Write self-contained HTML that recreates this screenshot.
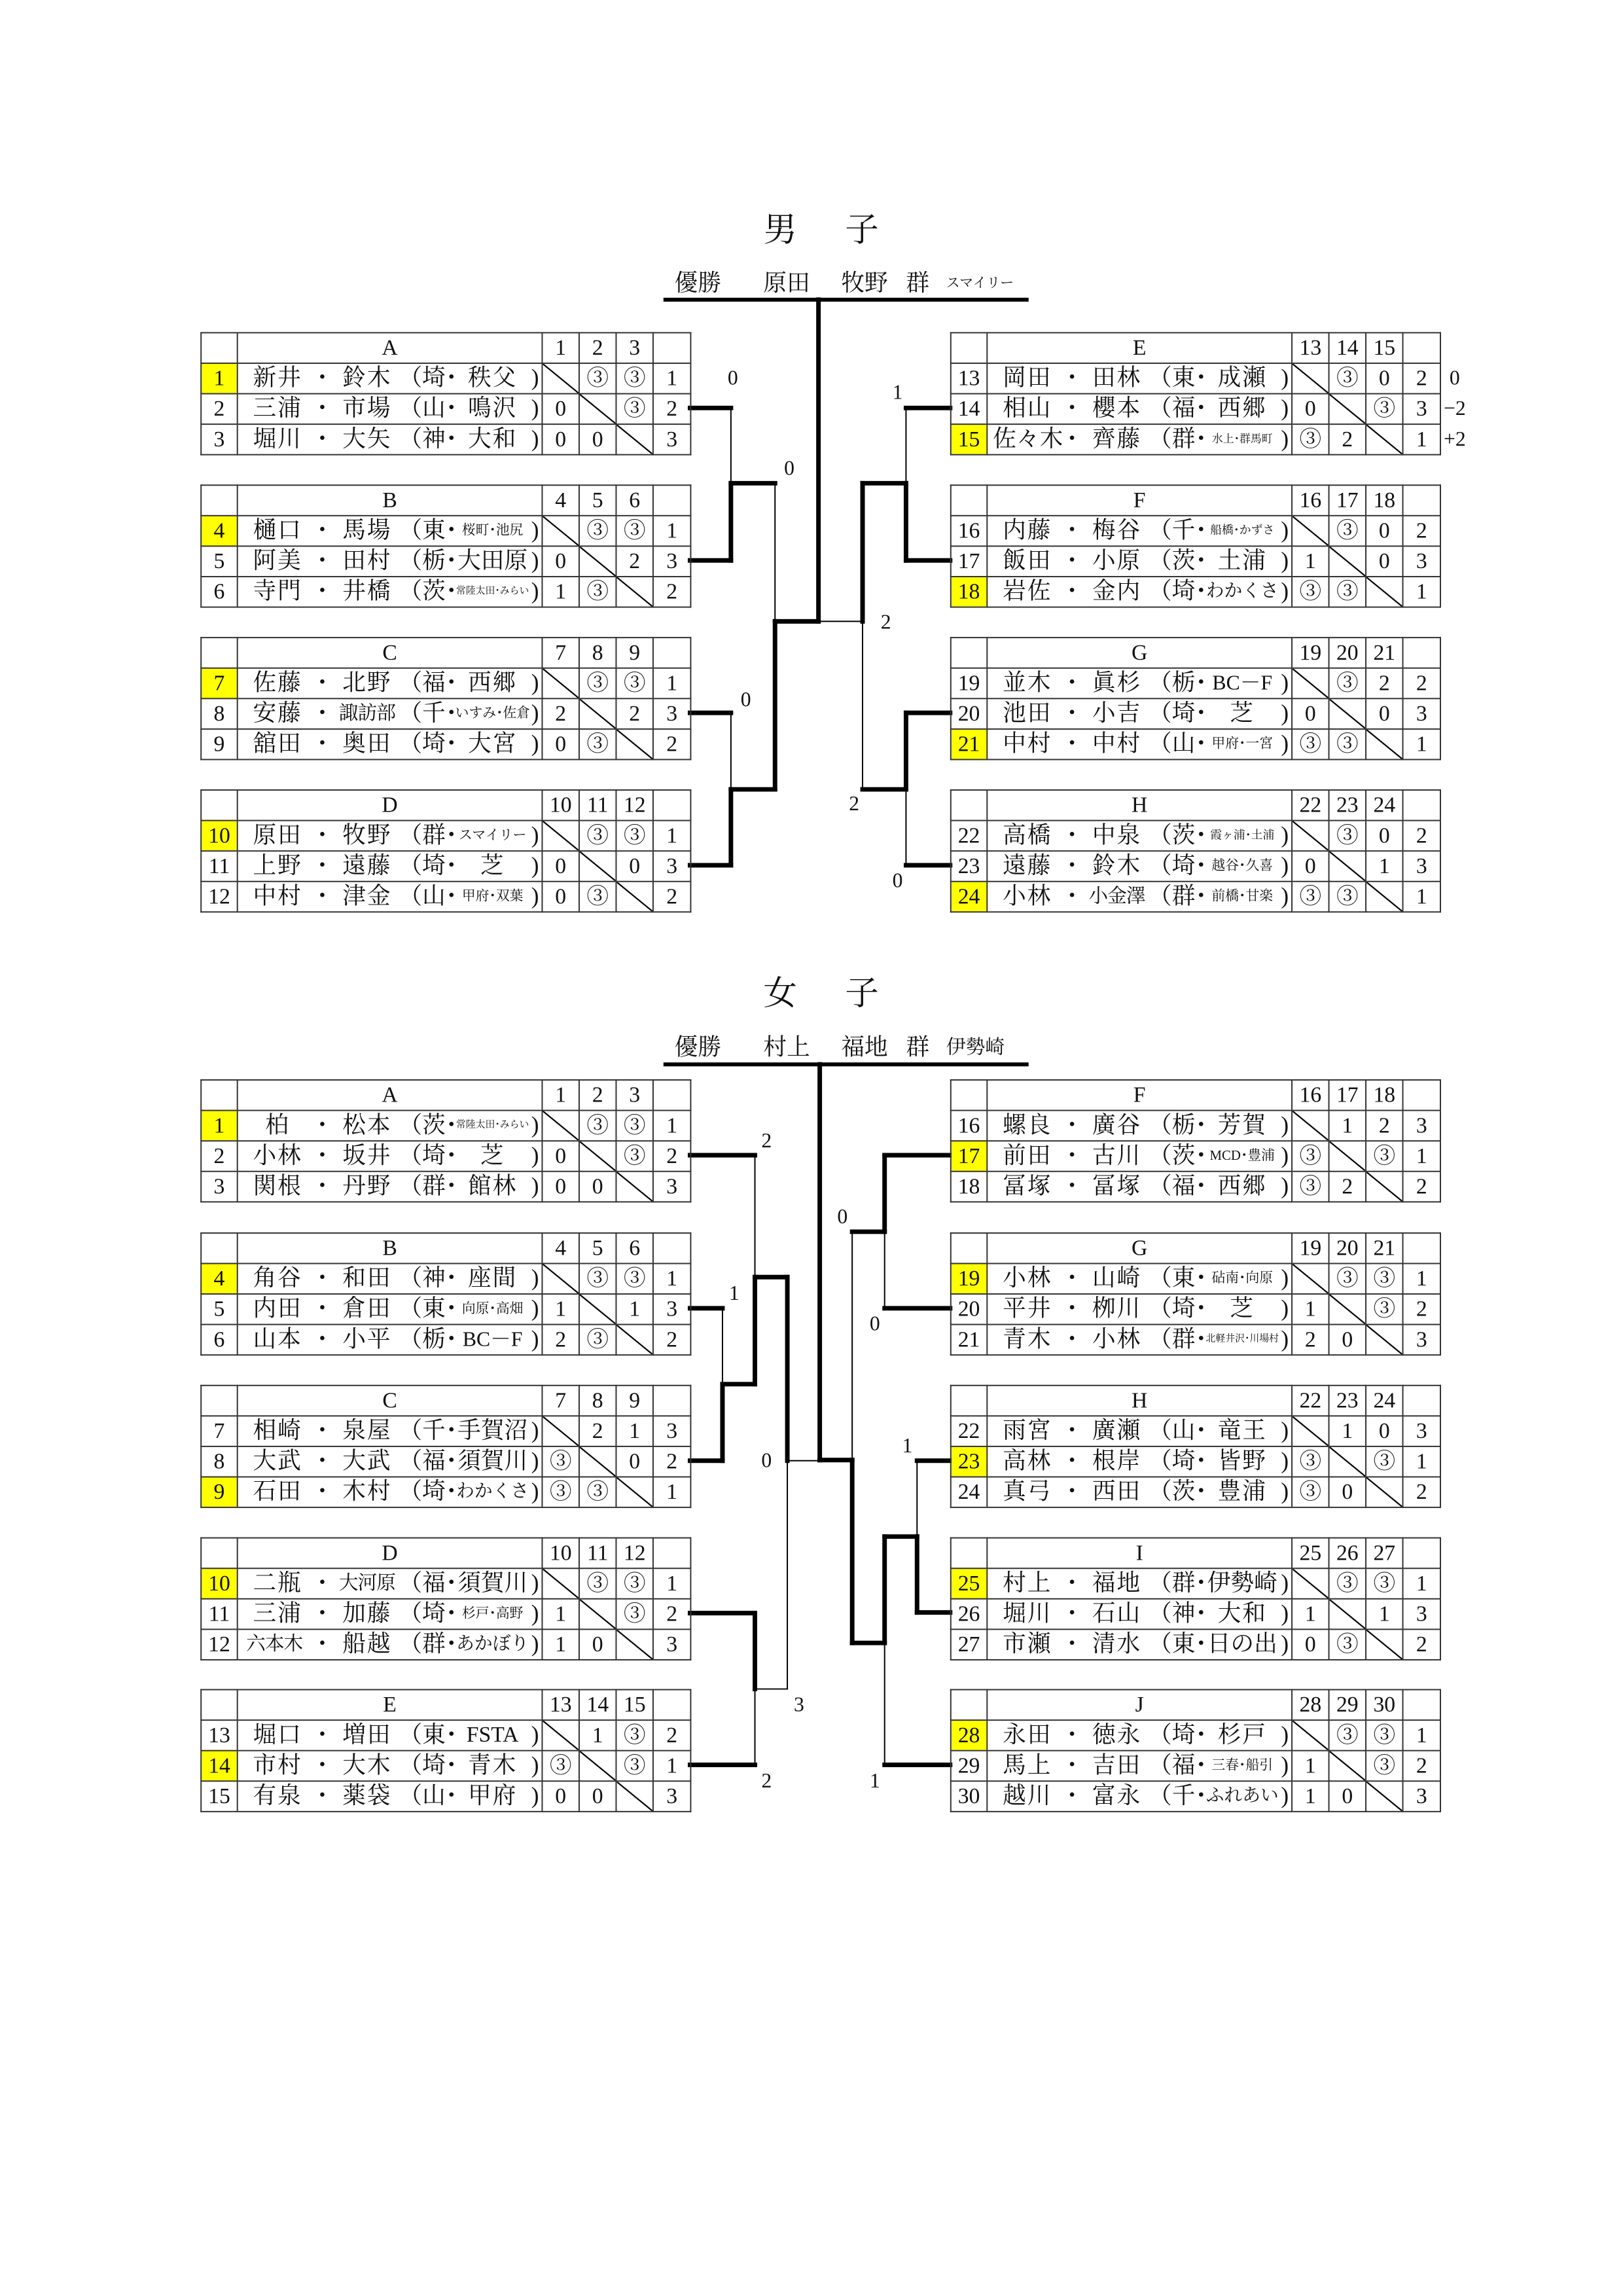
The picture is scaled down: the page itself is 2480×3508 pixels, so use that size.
<!DOCTYPE html>
<html><head><meta charset="utf-8">
<style>
*{margin:0;padding:0;box-sizing:border-box}
body{width:2480px;height:3508px;background:#fff;position:relative;overflow:hidden;font-family:"Liberation Serif","Noto Serif CJK SC","Noto Sans CJK JP",serif;color:#111}
#w{position:absolute;left:0;top:0;width:2480px;height:3508px;transform:scale(0.991);transform-origin:0 0}
table{position:absolute;border-collapse:collapse;table-layout:fixed;width:755px}
tr{height:47px}
td{border:2px solid #333;padding:0;text-align:center;font-size:34px;line-height:43px;white-space:nowrap;overflow:hidden}
td.m{position:relative}
td.y{background:#ffff00}
td.x{background:linear-gradient(to top right,transparent calc(50% - 1.2px),#000 calc(50% - 1px),#000 calc(50% + 1px),transparent calc(50% + 1.2px))}
i{font-style:normal;position:absolute;top:0;height:43px;line-height:43px;text-align:center;font-size:36px;white-space:nowrap}
.a{left:8px;width:106px;letter-spacing:2px}
.p{left:110px;width:40px}
.b{left:145px;width:108px;letter-spacing:2px}
.q{left:248px;width:90px;text-align:left}
.c{left:335px;width:115px;letter-spacing:2px}
.r{left:448px;width:20px}
.s1{font-size:21px;letter-spacing:0}
.s2{font-size:15px;letter-spacing:0}
.s3{font-size:28px;letter-spacing:0}
.sm{font-size:30px;letter-spacing:-1px}
.lab{position:absolute;font-size:32px;transform:translate(-50%,-50%);line-height:1}
.ttl{position:absolute;font-size:52px;line-height:1}
.chp{position:absolute;font-size:36px;line-height:1}
</style></head><body><div id="w">

<svg width="2480" height="3508" style="position:absolute;left:0;top:0" xmlns="http://www.w3.org/2000/svg">
<g stroke="#000" stroke-linecap="square" fill="none">
<line x1="1026" y1="462" x2="1583" y2="462" stroke-width="6"/>
<line x1="1026" y1="1641" x2="1583" y2="1641" stroke-width="6"/>
<g stroke-width="7">
<line x1="1064" y1="629" x2="1127" y2="629"/>
<line x1="1064" y1="864" x2="1127" y2="864"/>
<line x1="1127" y1="864" x2="1127" y2="745"/>
<line x1="1127" y1="745" x2="1195" y2="745"/>
<line x1="1064" y1="1099" x2="1127" y2="1099"/>
<line x1="1064" y1="1334" x2="1127" y2="1334"/>
<line x1="1127" y1="1334" x2="1127" y2="1217"/>
<line x1="1127" y1="1217" x2="1195" y2="1217"/>
<line x1="1195" y1="1217" x2="1195" y2="958"/>
<line x1="1195" y1="958" x2="1262" y2="958"/>
<line x1="1262" y1="462" x2="1262" y2="958"/>
<line x1="1330" y1="958" x2="1330" y2="745"/>
<line x1="1330" y1="745" x2="1397" y2="745"/>
<line x1="1397" y1="629" x2="1465" y2="629"/>
<line x1="1397" y1="745" x2="1397" y2="864"/>
<line x1="1397" y1="864" x2="1465" y2="864"/>
<line x1="1330" y1="1217" x2="1397" y2="1217"/>
<line x1="1397" y1="1217" x2="1397" y2="1099"/>
<line x1="1397" y1="1099" x2="1465" y2="1099"/>
<line x1="1397" y1="1334" x2="1465" y2="1334"/>
</g>
<g stroke-width="2">
<line x1="1127" y1="629" x2="1127" y2="745"/>
<line x1="1195" y1="745" x2="1195" y2="958"/>
<line x1="1127" y1="1099" x2="1127" y2="1217"/>
<line x1="1262" y1="958" x2="1330" y2="958"/>
<line x1="1397" y1="745" x2="1397" y2="629"/>
<line x1="1330" y1="958" x2="1330" y2="1217"/>
<line x1="1397" y1="1217" x2="1397" y2="1334"/>
</g>
<g stroke-width="7">
<line x1="1064" y1="1781" x2="1164" y2="1781"/>
<line x1="1064" y1="2017" x2="1114" y2="2017"/>
<line x1="1064" y1="2252" x2="1114" y2="2252"/>
<line x1="1114" y1="2252" x2="1114" y2="2134"/>
<line x1="1114" y1="2134" x2="1164" y2="2134"/>
<line x1="1164" y1="2134" x2="1164" y2="1969"/>
<line x1="1164" y1="1969" x2="1214" y2="1969"/>
<line x1="1214" y1="1969" x2="1214" y2="2252"/>
<line x1="1064" y1="2487" x2="1164" y2="2487"/>
<line x1="1164" y1="2487" x2="1164" y2="2604"/>
<line x1="1064" y1="2721" x2="1164" y2="2721"/>
<line x1="1264" y1="1641" x2="1264" y2="2251"/>
<line x1="1264" y1="2251" x2="1314" y2="2251"/>
<line x1="1465" y1="1781" x2="1364" y2="1781"/>
<line x1="1364" y1="1781" x2="1364" y2="1899"/>
<line x1="1364" y1="1899" x2="1314" y2="1899"/>
<line x1="1364" y1="2017" x2="1465" y2="2017"/>
<line x1="1314" y1="2251" x2="1314" y2="2533"/>
<line x1="1314" y1="2533" x2="1364" y2="2533"/>
<line x1="1364" y1="2533" x2="1364" y2="2369"/>
<line x1="1364" y1="2369" x2="1414" y2="2369"/>
<line x1="1414" y1="2369" x2="1414" y2="2486"/>
<line x1="1414" y1="2486" x2="1465" y2="2486"/>
<line x1="1414" y1="2252" x2="1465" y2="2252"/>
<line x1="1364" y1="2721" x2="1465" y2="2721"/>
</g>
<g stroke-width="2">
<line x1="1164" y1="1781" x2="1164" y2="1969"/>
<line x1="1114" y1="2017" x2="1114" y2="2134"/>
<line x1="1214" y1="2252" x2="1264" y2="2252"/>
<line x1="1214" y1="2252" x2="1214" y2="2604"/>
<line x1="1164" y1="2604" x2="1214" y2="2604"/>
<line x1="1164" y1="2721" x2="1164" y2="2604"/>
<line x1="1314" y1="1899" x2="1314" y2="2251"/>
<line x1="1364" y1="1899" x2="1364" y2="2017"/>
<line x1="1414" y1="2369" x2="1414" y2="2252"/>
<line x1="1364" y1="2533" x2="1364" y2="2721"/>
</g>
</g>
</svg>

<div class="ttl" style="left:1177px;top:330px">男</div>
<div class="ttl" style="left:1303px;top:330px">子</div>
<div class="chp" style="left:1040px;top:418px">優勝</div>
<div class="chp" style="left:1177px;top:418px">原田</div>
<div class="chp" style="left:1297px;top:418px">牧野</div>
<div class="chp" style="left:1397px;top:418px">群</div>
<div class="chp" style="left:1459px;top:426px;font-size:21px">スマイリー</div>

<div class="ttl" style="left:1177px;top:1507px">女</div>
<div class="ttl" style="left:1303px;top:1507px">子</div>
<div class="chp" style="left:1040px;top:1596px">優勝</div>
<div class="chp" style="left:1177px;top:1596px">村上</div>
<div class="chp" style="left:1297px;top:1596px">福地</div>
<div class="chp" style="left:1397px;top:1596px">群</div>
<div class="chp" style="left:1459px;top:1600px;font-size:30px">伊勢崎</div>

<div class="lab" style="left:1130px;top:582px">0</div>
<div class="lab" style="left:1217px;top:721px">0</div>
<div class="lab" style="left:1150px;top:1078px">0</div>
<div class="lab" style="left:1384px;top:604px">1</div>
<div class="lab" style="left:1366px;top:958px">2</div>
<div class="lab" style="left:1317px;top:1238px">2</div>
<div class="lab" style="left:1384px;top:1357px">0</div>
<div class="lab" style="left:2243px;top:582px">0</div>
<div class="lab" style="left:2243px;top:629px">−2</div>
<div class="lab" style="left:2243px;top:676px">+2</div>
<div class="lab" style="left:1182px;top:1758px">2</div>
<div class="lab" style="left:1132px;top:1993px">1</div>
<div class="lab" style="left:1182px;top:2251px">0</div>
<div class="lab" style="left:1232px;top:2627px">3</div>
<div class="lab" style="left:1182px;top:2745px">2</div>
<div class="lab" style="left:1299px;top:1875px">0</div>
<div class="lab" style="left:1349px;top:2040px">0</div>
<div class="lab" style="left:1399px;top:2228px">1</div>
<div class="lab" style="left:1349px;top:2745px">1</div>

<table style="left:309px;top:512px"><colgroup><col style="width:56px"><col style="width:470px"><col style="width:57px"><col style="width:57px"><col style="width:57px"><col style="width:58px"></colgroup>
<tr><td></td><td>A</td><td>1</td><td>2</td><td>3</td><td></td></tr>
<tr><td class="y">1</td><td class="m"><i class="a">新井</i><i class="p">・</i><i class="b">鈴木</i><i class="q">（埼･</i><i class="c">秩父</i><i class="r">)</i></td><td class="x"></td><td>③</td><td>③</td><td>1</td></tr>
<tr><td>2</td><td class="m"><i class="a">三浦</i><i class="p">・</i><i class="b">市場</i><i class="q">（山･</i><i class="c">鳴沢</i><i class="r">)</i></td><td>0</td><td class="x"></td><td>③</td><td>2</td></tr>
<tr><td>3</td><td class="m"><i class="a">堀川</i><i class="p">・</i><i class="b">大矢</i><i class="q">（神･</i><i class="c">大和</i><i class="r">)</i></td><td>0</td><td>0</td><td class="x"></td><td>3</td></tr>
</table>

<table style="left:309px;top:747px"><colgroup><col style="width:56px"><col style="width:470px"><col style="width:57px"><col style="width:57px"><col style="width:57px"><col style="width:58px"></colgroup>
<tr><td></td><td>B</td><td>4</td><td>5</td><td>6</td><td></td></tr>
<tr><td class="y">4</td><td class="m"><i class="a">樋口</i><i class="p">・</i><i class="b">馬場</i><i class="q">（東･</i><i class="c s1">桜町･池尻</i><i class="r">)</i></td><td class="x"></td><td>③</td><td>③</td><td>1</td></tr>
<tr><td>5</td><td class="m"><i class="a">阿美</i><i class="p">・</i><i class="b">田村</i><i class="q">（栃･</i><i class="c" style="letter-spacing:0">大田原</i><i class="r">)</i></td><td>0</td><td class="x"></td><td>2</td><td>3</td></tr>
<tr><td>6</td><td class="m"><i class="a">寺門</i><i class="p">・</i><i class="b">井橋</i><i class="q">（茨･</i><i class="c s2">常陸太田･みらい</i><i class="r">)</i></td><td>1</td><td>③</td><td class="x"></td><td>2</td></tr>
</table>

<table style="left:309px;top:982px"><colgroup><col style="width:56px"><col style="width:470px"><col style="width:57px"><col style="width:57px"><col style="width:57px"><col style="width:58px"></colgroup>
<tr><td></td><td>C</td><td>7</td><td>8</td><td>9</td><td></td></tr>
<tr><td class="y">7</td><td class="m"><i class="a">佐藤</i><i class="p">・</i><i class="b">北野</i><i class="q">（福･</i><i class="c">西郷</i><i class="r">)</i></td><td class="x"></td><td>③</td><td>③</td><td>1</td></tr>
<tr><td>8</td><td class="m"><i class="a">安藤</i><i class="p">・</i><i class="b sm">諏訪部</i><i class="q">（千･</i><i class="c s1">いすみ･佐倉</i><i class="r">)</i></td><td>2</td><td class="x"></td><td>2</td><td>3</td></tr>
<tr><td>9</td><td class="m"><i class="a">舘田</i><i class="p">・</i><i class="b">奥田</i><i class="q">（埼･</i><i class="c">大宮</i><i class="r">)</i></td><td>0</td><td>③</td><td class="x"></td><td>2</td></tr>
</table>

<table style="left:309px;top:1217px"><colgroup><col style="width:56px"><col style="width:470px"><col style="width:57px"><col style="width:57px"><col style="width:57px"><col style="width:58px"></colgroup>
<tr><td></td><td>D</td><td>10</td><td>11</td><td>12</td><td></td></tr>
<tr><td class="y">10</td><td class="m"><i class="a">原田</i><i class="p">・</i><i class="b">牧野</i><i class="q">（群･</i><i class="c s1">スマイリー</i><i class="r">)</i></td><td class="x"></td><td>③</td><td>③</td><td>1</td></tr>
<tr><td>11</td><td class="m"><i class="a">上野</i><i class="p">・</i><i class="b">遠藤</i><i class="q">（埼･</i><i class="c">芝</i><i class="r">)</i></td><td>0</td><td class="x"></td><td>0</td><td>3</td></tr>
<tr><td>12</td><td class="m"><i class="a">中村</i><i class="p">・</i><i class="b">津金</i><i class="q">（山･</i><i class="c s1">甲府･双葉</i><i class="r">)</i></td><td>0</td><td>③</td><td class="x"></td><td>2</td></tr>
</table>

<table style="left:1465px;top:512px"><colgroup><col style="width:56px"><col style="width:470px"><col style="width:57px"><col style="width:57px"><col style="width:57px"><col style="width:58px"></colgroup>
<tr><td></td><td>E</td><td>13</td><td>14</td><td>15</td><td></td></tr>
<tr><td>13</td><td class="m"><i class="a">岡田</i><i class="p">・</i><i class="b">田林</i><i class="q">（東･</i><i class="c">成瀬</i><i class="r">)</i></td><td class="x"></td><td>③</td><td>0</td><td>2</td></tr>
<tr><td>14</td><td class="m"><i class="a">相山</i><i class="p">・</i><i class="b">櫻本</i><i class="q">（福･</i><i class="c">西郷</i><i class="r">)</i></td><td>0</td><td class="x"></td><td>③</td><td>3</td></tr>
<tr><td class="y">15</td><td class="m"><i class="a" style="letter-spacing:0">佐々木</i><i class="p">・</i><i class="b">齊藤</i><i class="q">（群･</i><i class="c s2" style="font-size:17px">水上･群馬町</i><i class="r">)</i></td><td>③</td><td>2</td><td class="x"></td><td>1</td></tr>
</table>

<table style="left:1465px;top:747px"><colgroup><col style="width:56px"><col style="width:470px"><col style="width:57px"><col style="width:57px"><col style="width:57px"><col style="width:58px"></colgroup>
<tr><td></td><td>F</td><td>16</td><td>17</td><td>18</td><td></td></tr>
<tr><td>16</td><td class="m"><i class="a">内藤</i><i class="p">・</i><i class="b">梅谷</i><i class="q">（千･</i><i class="c s2" style="font-size:18px">船橋･かずさ</i><i class="r">)</i></td><td class="x"></td><td>③</td><td>0</td><td>2</td></tr>
<tr><td>17</td><td class="m"><i class="a">飯田</i><i class="p">・</i><i class="b">小原</i><i class="q">（茨･</i><i class="c">土浦</i><i class="r">)</i></td><td>1</td><td class="x"></td><td>0</td><td>3</td></tr>
<tr><td class="y">18</td><td class="m"><i class="a">岩佐</i><i class="p">・</i><i class="b">金内</i><i class="q">（埼･</i><i class="c s3">わかくさ</i><i class="r">)</i></td><td>③</td><td>③</td><td class="x"></td><td>1</td></tr>
</table>

<table style="left:1465px;top:982px"><colgroup><col style="width:56px"><col style="width:470px"><col style="width:57px"><col style="width:57px"><col style="width:57px"><col style="width:58px"></colgroup>
<tr><td></td><td>G</td><td>19</td><td>20</td><td>21</td><td></td></tr>
<tr><td>19</td><td class="m"><i class="a">並木</i><i class="p">・</i><i class="b">眞杉</i><i class="q">（栃･</i><i class="c" style="letter-spacing:0;font-size:32px">BC－F</i><i class="r">)</i></td><td class="x"></td><td>③</td><td>2</td><td>2</td></tr>
<tr><td>20</td><td class="m"><i class="a">池田</i><i class="p">・</i><i class="b">小吉</i><i class="q">（埼･</i><i class="c">芝</i><i class="r">)</i></td><td>0</td><td class="x"></td><td>0</td><td>3</td></tr>
<tr><td class="y">21</td><td class="m"><i class="a">中村</i><i class="p">・</i><i class="b">中村</i><i class="q">（山･</i><i class="c s1">甲府･一宮</i><i class="r">)</i></td><td>③</td><td>③</td><td class="x"></td><td>1</td></tr>
</table>

<table style="left:1465px;top:1217px"><colgroup><col style="width:56px"><col style="width:470px"><col style="width:57px"><col style="width:57px"><col style="width:57px"><col style="width:58px"></colgroup>
<tr><td></td><td>H</td><td>22</td><td>23</td><td>24</td><td></td></tr>
<tr><td>22</td><td class="m"><i class="a">高橋</i><i class="p">・</i><i class="b">中泉</i><i class="q">（茨･</i><i class="c s2" style="font-size:18px">霞ヶ浦･土浦</i><i class="r">)</i></td><td class="x"></td><td>③</td><td>0</td><td>2</td></tr>
<tr><td>23</td><td class="m"><i class="a">遠藤</i><i class="p">・</i><i class="b">鈴木</i><i class="q">（埼･</i><i class="c s1">越谷･久喜</i><i class="r">)</i></td><td>0</td><td class="x"></td><td>1</td><td>3</td></tr>
<tr><td class="y">24</td><td class="m"><i class="a">小林</i><i class="p">・</i><i class="b sm">小金澤</i><i class="q">（群･</i><i class="c s1">前橋･甘楽</i><i class="r">)</i></td><td>③</td><td>③</td><td class="x"></td><td>1</td></tr>
</table>

<table style="left:309px;top:1664px"><colgroup><col style="width:56px"><col style="width:470px"><col style="width:57px"><col style="width:57px"><col style="width:57px"><col style="width:58px"></colgroup>
<tr><td></td><td>A</td><td>1</td><td>2</td><td>3</td><td></td></tr>
<tr><td class="y">1</td><td class="m"><i class="a">柏</i><i class="p">・</i><i class="b">松本</i><i class="q">（茨･</i><i class="c s2">常陸太田･みらい</i><i class="r">)</i></td><td class="x"></td><td>③</td><td>③</td><td>1</td></tr>
<tr><td>2</td><td class="m"><i class="a">小林</i><i class="p">・</i><i class="b">坂井</i><i class="q">（埼･</i><i class="c">芝</i><i class="r">)</i></td><td>0</td><td class="x"></td><td>③</td><td>2</td></tr>
<tr><td>3</td><td class="m"><i class="a">関根</i><i class="p">・</i><i class="b">丹野</i><i class="q">（群･</i><i class="c">館林</i><i class="r">)</i></td><td>0</td><td>0</td><td class="x"></td><td>3</td></tr>
</table>

<table style="left:309px;top:1900px"><colgroup><col style="width:56px"><col style="width:470px"><col style="width:57px"><col style="width:57px"><col style="width:57px"><col style="width:58px"></colgroup>
<tr><td></td><td>B</td><td>4</td><td>5</td><td>6</td><td></td></tr>
<tr><td class="y">4</td><td class="m"><i class="a">角谷</i><i class="p">・</i><i class="b">和田</i><i class="q">（神･</i><i class="c">座間</i><i class="r">)</i></td><td class="x"></td><td>③</td><td>③</td><td>1</td></tr>
<tr><td>5</td><td class="m"><i class="a">内田</i><i class="p">・</i><i class="b">倉田</i><i class="q">（東･</i><i class="c s1">向原･高畑</i><i class="r">)</i></td><td>1</td><td class="x"></td><td>1</td><td>3</td></tr>
<tr><td>6</td><td class="m"><i class="a">山本</i><i class="p">・</i><i class="b">小平</i><i class="q">（栃･</i><i class="c" style="letter-spacing:0;font-size:32px">BC－F</i><i class="r">)</i></td><td>2</td><td>③</td><td class="x"></td><td>2</td></tr>
</table>

<table style="left:309px;top:2135px"><colgroup><col style="width:56px"><col style="width:470px"><col style="width:57px"><col style="width:57px"><col style="width:57px"><col style="width:58px"></colgroup>
<tr><td></td><td>C</td><td>7</td><td>8</td><td>9</td><td></td></tr>
<tr><td>7</td><td class="m"><i class="a">相崎</i><i class="p">・</i><i class="b">泉屋</i><i class="q">（千･</i><i class="c" style="letter-spacing:0">手賀沼</i><i class="r">)</i></td><td class="x"></td><td>2</td><td>1</td><td>3</td></tr>
<tr><td>8</td><td class="m"><i class="a">大武</i><i class="p">・</i><i class="b">大武</i><i class="q">（福･</i><i class="c" style="letter-spacing:0">須賀川</i><i class="r">)</i></td><td>③</td><td class="x"></td><td>0</td><td>2</td></tr>
<tr><td class="y">9</td><td class="m"><i class="a">石田</i><i class="p">・</i><i class="b">木村</i><i class="q">（埼･</i><i class="c s3">わかくさ</i><i class="r">)</i></td><td>③</td><td>③</td><td class="x"></td><td>1</td></tr>
</table>

<table style="left:309px;top:2370px"><colgroup><col style="width:56px"><col style="width:470px"><col style="width:57px"><col style="width:57px"><col style="width:57px"><col style="width:58px"></colgroup>
<tr><td></td><td>D</td><td>10</td><td>11</td><td>12</td><td></td></tr>
<tr><td class="y">10</td><td class="m"><i class="a">二瓶</i><i class="p">・</i><i class="b sm">大河原</i><i class="q">（福･</i><i class="c" style="letter-spacing:0">須賀川</i><i class="r">)</i></td><td class="x"></td><td>③</td><td>③</td><td>1</td></tr>
<tr><td>11</td><td class="m"><i class="a">三浦</i><i class="p">・</i><i class="b">加藤</i><i class="q">（埼･</i><i class="c s1">杉戸･高野</i><i class="r">)</i></td><td>1</td><td class="x"></td><td>③</td><td>2</td></tr>
<tr><td>12</td><td class="m"><i class="a sm" style="left:0;width:112px">六本木</i><i class="p">・</i><i class="b">船越</i><i class="q">（群･</i><i class="c s3">あかぼり</i><i class="r">)</i></td><td>1</td><td>0</td><td class="x"></td><td>3</td></tr>
</table>

<table style="left:309px;top:2604px"><colgroup><col style="width:56px"><col style="width:470px"><col style="width:57px"><col style="width:57px"><col style="width:57px"><col style="width:58px"></colgroup>
<tr><td></td><td>E</td><td>13</td><td>14</td><td>15</td><td></td></tr>
<tr><td>13</td><td class="m"><i class="a">堀口</i><i class="p">・</i><i class="b">増田</i><i class="q">（東･</i><i class="c" style="letter-spacing:0;font-size:34px">FSTA</i><i class="r">)</i></td><td class="x"></td><td>1</td><td>③</td><td>2</td></tr>
<tr><td class="y">14</td><td class="m"><i class="a">市村</i><i class="p">・</i><i class="b">大木</i><i class="q">（埼･</i><i class="c">青木</i><i class="r">)</i></td><td>③</td><td class="x"></td><td>③</td><td>1</td></tr>
<tr><td>15</td><td class="m"><i class="a">有泉</i><i class="p">・</i><i class="b">薬袋</i><i class="q">（山･</i><i class="c">甲府</i><i class="r">)</i></td><td>0</td><td>0</td><td class="x"></td><td>3</td></tr>
</table>

<table style="left:1465px;top:1664px"><colgroup><col style="width:56px"><col style="width:470px"><col style="width:57px"><col style="width:57px"><col style="width:57px"><col style="width:58px"></colgroup>
<tr><td></td><td>F</td><td>16</td><td>17</td><td>18</td><td></td></tr>
<tr><td>16</td><td class="m"><i class="a">螺良</i><i class="p">・</i><i class="b">廣谷</i><i class="q">（栃･</i><i class="c">芳賀</i><i class="r">)</i></td><td class="x"></td><td>1</td><td>2</td><td>3</td></tr>
<tr><td class="y">17</td><td class="m"><i class="a">前田</i><i class="p">・</i><i class="b">古川</i><i class="q">（茨･</i><i class="c s1">MCD･豊浦</i><i class="r">)</i></td><td>③</td><td class="x"></td><td>③</td><td>1</td></tr>
<tr><td>18</td><td class="m"><i class="a">冨塚</i><i class="p">・</i><i class="b">冨塚</i><i class="q">（福･</i><i class="c">西郷</i><i class="r">)</i></td><td>③</td><td>2</td><td class="x"></td><td>2</td></tr>
</table>

<table style="left:1465px;top:1900px"><colgroup><col style="width:56px"><col style="width:470px"><col style="width:57px"><col style="width:57px"><col style="width:57px"><col style="width:58px"></colgroup>
<tr><td></td><td>G</td><td>19</td><td>20</td><td>21</td><td></td></tr>
<tr><td class="y">19</td><td class="m"><i class="a">小林</i><i class="p">・</i><i class="b">山崎</i><i class="q">（東･</i><i class="c s1">砧南･向原</i><i class="r">)</i></td><td class="x"></td><td>③</td><td>③</td><td>1</td></tr>
<tr><td>20</td><td class="m"><i class="a">平井</i><i class="p">・</i><i class="b">栁川</i><i class="q">（埼･</i><i class="c">芝</i><i class="r">)</i></td><td>1</td><td class="x"></td><td>③</td><td>2</td></tr>
<tr><td>21</td><td class="m"><i class="a">青木</i><i class="p">・</i><i class="b">小林</i><i class="q">（群･</i><i class="c s2">北軽井沢･川場村</i><i class="r">)</i></td><td>2</td><td>0</td><td class="x"></td><td>3</td></tr>
</table>

<table style="left:1465px;top:2135px"><colgroup><col style="width:56px"><col style="width:470px"><col style="width:57px"><col style="width:57px"><col style="width:57px"><col style="width:58px"></colgroup>
<tr><td></td><td>H</td><td>22</td><td>23</td><td>24</td><td></td></tr>
<tr><td>22</td><td class="m"><i class="a">雨宮</i><i class="p">・</i><i class="b">廣瀬</i><i class="q">（山･</i><i class="c">竜王</i><i class="r">)</i></td><td class="x"></td><td>1</td><td>0</td><td>3</td></tr>
<tr><td class="y">23</td><td class="m"><i class="a">高林</i><i class="p">・</i><i class="b">根岸</i><i class="q">（埼･</i><i class="c">皆野</i><i class="r">)</i></td><td>③</td><td class="x"></td><td>③</td><td>1</td></tr>
<tr><td>24</td><td class="m"><i class="a">真弓</i><i class="p">・</i><i class="b">西田</i><i class="q">（茨･</i><i class="c">豊浦</i><i class="r">)</i></td><td>③</td><td>0</td><td class="x"></td><td>2</td></tr>
</table>

<table style="left:1465px;top:2370px"><colgroup><col style="width:56px"><col style="width:470px"><col style="width:57px"><col style="width:57px"><col style="width:57px"><col style="width:58px"></colgroup>
<tr><td></td><td>I</td><td>25</td><td>26</td><td>27</td><td></td></tr>
<tr><td class="y">25</td><td class="m"><i class="a">村上</i><i class="p">・</i><i class="b">福地</i><i class="q">（群･</i><i class="c" style="letter-spacing:0">伊勢崎</i><i class="r">)</i></td><td class="x"></td><td>③</td><td>③</td><td>1</td></tr>
<tr><td>26</td><td class="m"><i class="a">堀川</i><i class="p">・</i><i class="b">石山</i><i class="q">（神･</i><i class="c">大和</i><i class="r">)</i></td><td>1</td><td class="x"></td><td>1</td><td>3</td></tr>
<tr><td>27</td><td class="m"><i class="a">市瀬</i><i class="p">・</i><i class="b">清水</i><i class="q">（東･</i><i class="c" style="letter-spacing:0">日の出</i><i class="r">)</i></td><td>0</td><td>③</td><td class="x"></td><td>2</td></tr>
</table>

<table style="left:1465px;top:2604px"><colgroup><col style="width:56px"><col style="width:470px"><col style="width:57px"><col style="width:57px"><col style="width:57px"><col style="width:58px"></colgroup>
<tr><td></td><td>J</td><td>28</td><td>29</td><td>30</td><td></td></tr>
<tr><td class="y">28</td><td class="m"><i class="a">永田</i><i class="p">・</i><i class="b">徳永</i><i class="q">（埼･</i><i class="c">杉戸</i><i class="r">)</i></td><td class="x"></td><td>③</td><td>③</td><td>1</td></tr>
<tr><td>29</td><td class="m"><i class="a">馬上</i><i class="p">・</i><i class="b">吉田</i><i class="q">（福･</i><i class="c s1">三春･船引</i><i class="r">)</i></td><td>1</td><td class="x"></td><td>③</td><td>2</td></tr>
<tr><td>30</td><td class="m"><i class="a">越川</i><i class="p">・</i><i class="b">富永</i><i class="q">（千･</i><i class="c s3">ふれあい</i><i class="r">)</i></td><td>1</td><td>0</td><td class="x"></td><td>3</td></tr>
</table>

</div></body></html>
